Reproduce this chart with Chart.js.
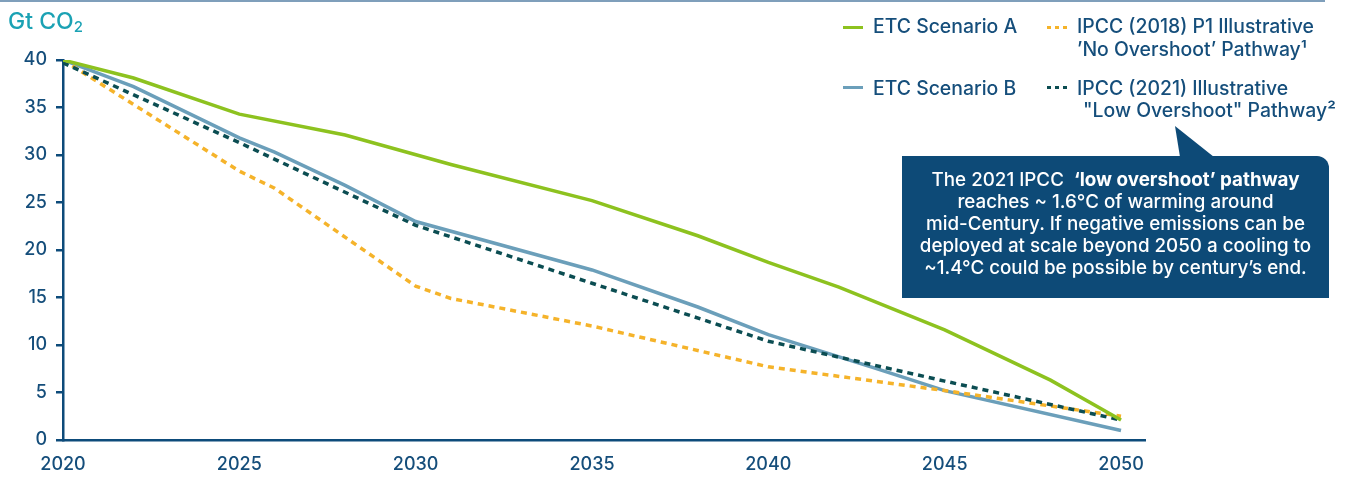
<!DOCTYPE html>
<html>
<head>
<meta charset="utf-8">
<script src="https://cdn.jsdelivr.net/npm/chart.js@4.4.1/dist/chart.umd.min.js"></script>
<style>
  html, body { margin:0; padding:0; background:#fff; }
  #wrap { position:relative; width:1347px; height:477px; overflow:hidden; font-family:Inter, "Noto Sans", sans-serif; }
  #c { position:absolute; left:0; top:0; }
  .topline { position:absolute; left:0; top:0; width:1325px; height:2px; background:#7f9fbb; }
  .title { position:absolute; left:8px; top:6px; font-size:23px; font-weight:500; line-height:30px; color:#1ba2b4; white-space:nowrap; }
  .title sub { font-size:15px; vertical-align:-3px; line-height:0; }
  .lg { position:absolute; font-size:19.4px; font-weight:500; line-height:22px; color:#154e7b; white-space:nowrap; }
  .sw { position:absolute; height:3px; }
  .dots { position:absolute; height:3px; width:20px; }
  .dots i { position:absolute; top:0; width:4px; height:3px; }
  .box { position:absolute; left:902px; top:156px; width:427px; height:142px; background:#0d4a77; border-radius:0 12px 0 0; }
  .boxtext { position:absolute; left:902px; top:169px; width:427px; text-align:center; color:#fff; font-size:18.8px; font-weight:500; line-height:22px; white-space:nowrap; }
  .boxtext b { font-weight:700; }
  svg.ptr { position:absolute; left:0; top:0; }
</style>
</head>
<body>
<div id="wrap">
  <canvas id="c" width="1347" height="477"></canvas>
  <div class="topline"></div>
  <div class="title">Gt CO<sub>2</sub></div>

  <div class="sw" style="left:843px;top:26px;width:20px;background:#8dc21f;"></div>
  <div class="lg" style="left:873px;top:15px;">ETC Scenario A</div>
  <div class="dots" style="left:1047px;top:26px;"><i style="left:0;background:#f5b32a"></i><i style="left:8px;background:#f5b32a"></i><i style="left:16px;background:#f5b32a"></i></div>
  <div class="lg" style="left:1077px;top:15px;">IPCC (2018) P1 Illustrative</div>
  <div class="lg" style="left:1077px;top:38px;">’No Overshoot’ Pathway¹</div>

  <div class="sw" style="left:843px;top:86px;width:20px;background:#6b9fba;"></div>
  <div class="lg" style="left:873px;top:77px;">ETC Scenario B</div>
  <div class="dots" style="left:1047px;top:86px;"><i style="left:0;background:#0b4d52"></i><i style="left:8px;background:#0b4d52"></i><i style="left:16px;background:#0b4d52"></i></div>
  <div class="lg" style="left:1077px;top:77px;">IPCC (2021) Illustrative</div>
  <div class="lg" style="left:1083px;top:99px;">"Low Overshoot" Pathway²</div>

  <svg class="ptr" width="1347" height="477"><polygon points="1175,126 1180,157 1214,157" fill="#0d4a77"/></svg>
  <div class="box"></div>
  <div class="boxtext">The 2021 IPCC&nbsp; <b>‘low overshoot’ pathway</b><br>reaches ~ 1.6°C of warming around<br>mid-Century. If negative emissions can be<br>deployed at scale beyond 2050 a cooling to<br>~1.4°C could be possible by century’s end.</div>
</div>
<script>
// ---- Data ----
const xTicks = [2020, 2025, 2030, 2035, 2040, 2045, 2050];
const yTicks = [0, 5, 10, 15, 20, 25, 30, 35, 40];

const etcAYears  = [2020, 2022, 2025, 2028, 2031, 2035, 2038, 2040, 2042, 2045, 2048, 2050];
const etcAValues = [40.0, 38.1, 34.3, 32.1, 29.0, 25.2, 21.5, 18.7, 16.1, 11.6, 6.3, 2.1];

const etcBYears  = [2020, 2022, 2025, 2026, 2028, 2030, 2035, 2038, 2040, 2043, 2045, 2050];
const etcBValues = [40.0, 37.2, 31.8, 30.3, 26.8, 23.0, 17.9, 14.0, 11.1, 7.6, 5.2, 1.0];

const ipcc2018Years  = [2020, 2025, 2026, 2030, 2031, 2035, 2040, 2045, 2050];
const ipcc2018Values = [40.0, 28.3, 26.5, 16.2, 14.9, 12.0, 7.7, 5.2, 2.5];

const ipcc2021Years  = [2020, 2025, 2030, 2035, 2040, 2045, 2050];
const ipcc2021Values = [39.7, 31.3, 22.6, 16.5, 10.4, 6.2, 2.1];

const toPts = (xs, ys) => xs.map((x, i) => ({ x: x, y: ys[i] }));

const AXIS = '#0d4b7a';
const TICKTXT = '#154e7b';

new Chart(document.getElementById('c'), {
  type: 'line',
  data: {
    datasets: [
      { label: 'ETC Scenario A', data: toPts(etcAYears, etcAValues), borderColor: '#8dc21f', borderWidth: 3.5, order: 0 },
      { label: 'IPCC (2021) Illustrative "Low Overshoot" Pathway', data: toPts(ipcc2021Years, ipcc2021Values), borderColor: '#0b4d52', borderWidth: 3.5, borderDash: [6, 5], order: 1 },
      { label: "IPCC (2018) P1 Illustrative 'No Overshoot' Pathway", data: toPts(ipcc2018Years, ipcc2018Values), borderColor: '#f5b32a', borderWidth: 3.5, borderDash: [6, 5], order: 2 },
      { label: 'ETC Scenario B', data: toPts(etcBYears, etcBValues), borderColor: '#6b9fba', borderWidth: 3.5, order: 3 }
    ]
  },
  options: {
    responsive: false,
    animation: false,
    events: [],
    layout: { padding: { top: 60, right: 202, left: 0, bottom: 0 } },
    elements: { point: { radius: 0 }, line: { tension: 0, fill: false, borderCapStyle: 'butt' } },
    plugins: { legend: { display: false }, tooltip: { enabled: false } },
    scales: {
      x: {
        type: 'linear',
        min: 2020,
        max: 2050.68,
        afterBuildTicks: (s) => { s.ticks = xTicks.map(v => ({ value: v })); },
        afterFit: (s) => { s.height = 37; },
        ticks: { callback: (v) => String(v), color: TICKTXT, font: { family: 'Inter', size: 18, weight: '500' }, padding: 14, maxRotation: 0, autoSkip: false },
        grid: { display: false, drawTicks: false },
        border: { display: true, color: AXIS, width: 2.5 }
      },
      y: {
        min: 0,
        max: 40,
        afterBuildTicks: (s) => { s.ticks = yTicks.map(v => ({ value: v })); },
        afterFit: (s) => { s.width = 63; },
        ticks: { callback: (v) => String(v), color: TICKTXT, font: { family: 'Inter', size: 18, weight: '500' }, padding: 9 },
        grid: { drawOnChartArea: false, drawTicks: true, tickLength: 7, color: AXIS, lineWidth: 2.5 },
        border: { display: true, color: AXIS, width: 2.5 }
      }
    }
  }
});
</script>
</body>
</html>
